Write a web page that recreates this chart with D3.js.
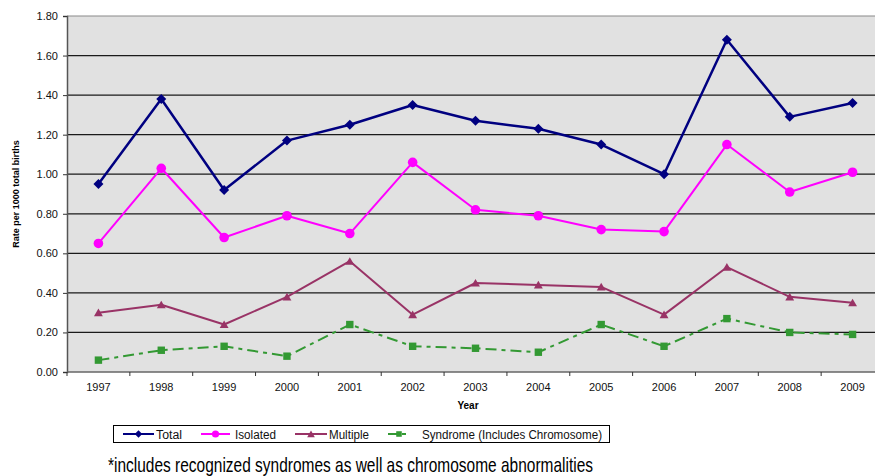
<!DOCTYPE html>
<html>
<head>
<meta charset="utf-8">
<script src="https://cdn.jsdelivr.net/npm/d3@7"></script>
<style>
  html, body { margin: 0; padding: 0; background: #fff; }
  svg { display: block; font-family: Arial, "Liberation Sans", sans-serif; }
</style>
</head>
<body>
<svg id="chart" width="875" height="476"></svg>
<script>
// Rates of defects per 1000 total births, 1997–2009
const years = ["1997","1998","1999","2000","2001","2002","2003","2004","2005","2006","2007","2008","2009"];
const total     = [0.95, 1.38, 0.92, 1.17, 1.25, 1.35, 1.27, 1.23, 1.15, 1.00, 1.68, 1.29, 1.36];
const isolated  = [0.65, 1.03, 0.68, 0.79, 0.70, 1.06, 0.82, 0.79, 0.72, 0.71, 1.15, 0.91, 1.01];
const multiple  = [0.30, 0.34, 0.24, 0.38, 0.56, 0.29, 0.45, 0.44, 0.43, 0.29, 0.53, 0.38, 0.35];
const syndrome  = [0.06, 0.11, 0.13, 0.08, 0.24, 0.13, 0.12, 0.10, 0.24, 0.13, 0.27, 0.20, 0.19];
const yTicks = [0, 0.2, 0.4, 0.6, 0.8, 1.0, 1.2, 1.4, 1.6, 1.8];

const series = [
  { name: "Total", values: total, color: "#000080", width: 2.5, marker: "diamond", dash: null },
  { name: "Isolated", values: isolated, color: "#ff00ff", width: 2, marker: "circle", dash: null },
  { name: "Multiple", values: multiple, color: "#993366", width: 2, marker: "triangle", dash: null },
  { name: "Syndrome (Includes Chromosome)", values: syndrome, color: "#339933", width: 2, marker: "square", dash: "11,5,4,5" }
];

const svg = d3.select("#chart");
const plot = { left: 67, top: 16, right: 884, bottom: 372 };

const x = d3.scaleBand().domain(years).range([plot.left, plot.right]);
const y = d3.scaleLinear().domain([0, 1.8]).range([plot.bottom, plot.top]);

// Plot background
svg.append("rect")
  .attr("x", plot.left).attr("y", plot.top)
  .attr("width", plot.right - plot.left).attr("height", plot.bottom - plot.top)
  .attr("fill", "#e1e1e1");

// Horizontal gridlines
svg.append("g")
  .selectAll("line")
  .data(yTicks.filter(d => d > 0))
  .join("line")
  .attr("x1", plot.left).attr("x2", plot.right)
  .attr("y1", d => y(d)).attr("y2", d => y(d))
  .attr("stroke", d => d === 1.8 ? "#8a8a8a" : "#1a1a1a")
  .attr("stroke-width", 1.2);

// Y axis
const yAxis = svg.append("g")
  .attr("transform", `translate(${plot.left},0)`)
  .call(d3.axisLeft(y).tickValues(yTicks).tickFormat(d3.format(".2f")).tickSize(4).tickPadding(5));
yAxis.select(".domain").attr("stroke", "#555").attr("stroke-width", 1.5);
yAxis.selectAll(".tick line").attr("stroke", "#333");
yAxis.selectAll("text").attr("font-size", 11).attr("fill", "#111")
  .attr("font-family", "Arial, 'Liberation Sans', sans-serif");

// X axis with ticks on category boundaries
const xAxisG = svg.append("g").attr("transform", `translate(0,${plot.bottom})`);
xAxisG.append("line")
  .attr("x1", plot.left).attr("x2", plot.right)
  .attr("y1", 0).attr("y2", 0)
  .attr("stroke", "#666").attr("stroke-width", 1.5);
xAxisG.selectAll("line.tick")
  .data(years)
  .join("line")
  .attr("class", "tick")
  .attr("x1", d => x(d)).attr("x2", d => x(d))
  .attr("y1", 0).attr("y2", 4)
  .attr("stroke", "#333");
xAxisG.selectAll("text")
  .data(years)
  .join("text")
  .attr("x", d => x(d) + x.bandwidth() / 2)
  .attr("y", 19)
  .attr("text-anchor", "middle")
  .attr("font-size", 11)
  .attr("fill", "#111")
  .text(d => d);

// Axis titles
svg.append("text")
  .attr("x", 468).attr("y", 409)
  .attr("text-anchor", "middle")
  .attr("font-size", 10).attr("font-weight", "bold")
  .text("Year");
svg.append("text")
  .attr("transform", "translate(19,194) rotate(-90)")
  .attr("text-anchor", "middle")
  .attr("font-size", 9).attr("font-weight", "bold")
  .text("Rate per 1000 total births");

// Marker drawing
function drawMarker(g, type, color, cx, cy, scale) {
  const s = scale || 1;
  if (type === "diamond") {
    const r = 5 * s;
    g.append("path").attr("d", `M0,${-r}L${r},0L0,${r}L${-r},0Z`)
      .attr("transform", `translate(${cx},${cy})`).attr("fill", color);
  } else if (type === "circle") {
    g.append("circle").attr("cx", cx).attr("cy", cy).attr("r", 4.8 * s).attr("fill", color);
  } else if (type === "triangle") {
    g.append("path").attr("d", d3.symbol(d3.symbolTriangle, 34 * s)())
      .attr("transform", `translate(${cx},${cy + 1})`).attr("fill", color);
  } else if (type === "square") {
    g.append("rect").attr("x", cx - 3.7 * s).attr("y", cy - 3.7 * s)
      .attr("width", 7.4 * s).attr("height", 7.4 * s).attr("fill", color);
  }
}

const line = d3.line()
  .x((d, i) => x(years[i]) + x.bandwidth() / 2)
  .y(d => y(d));

// Draw series back to front so Total sits on top
series.slice().reverse().forEach(s => {
  const g = svg.append("g");
  g.append("path")
    .attr("d", line(s.values))
    .attr("fill", "none")
    .attr("stroke", s.color)
    .attr("stroke-width", s.width)
    .attr("stroke-dasharray", s.dash)
    .attr("stroke-linejoin", "round");
  s.values.forEach((v, i) => drawMarker(g, s.marker, s.color, x(years[i]) + x.bandwidth() / 2, y(v)));
});

// Legend
const legend = svg.append("g");
legend.append("rect")
  .attr("x", 113.5).attr("y", 425.5).attr("width", 496).attr("height", 17)
  .attr("fill", "#fff").attr("stroke", "#000").attr("stroke-width", 1);
const legendItems = [
  { s: series[0], x1: 123, x2: 154, tx: 156, w: 26 },
  { s: series[1], x1: 201, x2: 230, tx: 235, w: 41 },
  { s: series[2], x1: 295, x2: 327, tx: 329, w: 40 },
  { s: series[3], x1: 388, x2: 410, tx: 422, w: 180 }
];
legendItems.forEach(it => {
  const ly = 434;
  legend.append("line")
    .attr("x1", it.x1).attr("x2", it.x2).attr("y1", ly).attr("y2", ly)
    .attr("stroke", it.s.color).attr("stroke-width", 2)
    .attr("stroke-dasharray", it.s.dash ? "10,4,4,4" : null);
  drawMarker(legend, it.s.marker, it.s.color, (it.x1 + it.x2) / 2, ly, 0.75);
  legend.append("text")
    .attr("x", it.tx).attr("y", ly + 4.5)
    .attr("font-size", 12).attr("fill", "#111")
    .attr("textLength", it.w).attr("lengthAdjust", "spacingAndGlyphs")
    .text(it.s.name);
});

// Footnote
svg.append("text")
  .attr("x", 108).attr("y", 472)
  .attr("font-family", "'Liberation Sans Narrow', 'Arial Narrow', Arial, sans-serif")
  .attr("font-size", 21).attr("fill", "#000")
  .attr("textLength", 485).attr("lengthAdjust", "spacingAndGlyphs")
  .text("*includes recognized syndromes as well as chromosome abnormalities");
</script>
</body>
</html>
